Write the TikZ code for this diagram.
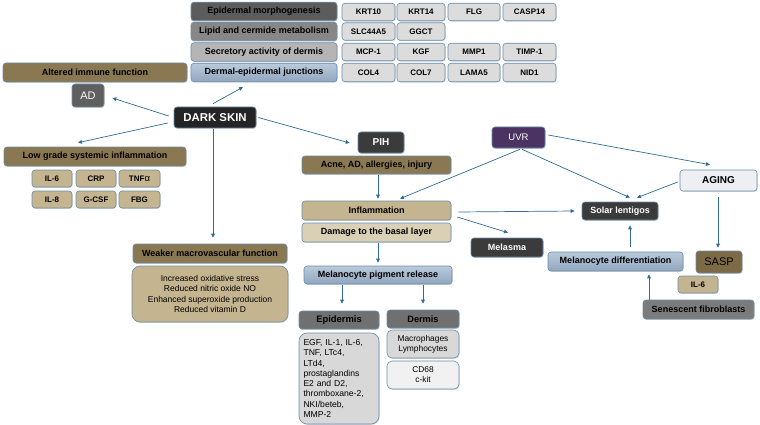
\documentclass[tikz,border=0pt]{standalone}
\usepackage{fontspec}
\setmainfont{Liberation Sans}
\usetikzlibrary{arrows.meta,calc,shadows}
\definecolor{arrowc}{HTML}{2F6B94}
\definecolor{bordc}{HTML}{6A8DAB}
\definecolor{geneg}{HTML}{DCDCDC}
\definecolor{olive}{HTML}{8A7852}
\definecolor{tan}{HTML}{C4B48F}
\definecolor{tanlt}{HTML}{D9D0B5}
\definecolor{dk}{HTML}{3B3B3B}
\definecolor{blk}{HTML}{242424}
\definecolor{gA}{HTML}{5C5C5C}
\definecolor{gB}{HTML}{878787}
\definecolor{gC}{HTML}{B5B5B5}
\definecolor{gD}{HTML}{707070}
\definecolor{gE}{HTML}{D8D8D8}
\definecolor{gF}{HTML}{F1F1F1}
\definecolor{blueT}{HTML}{BACADB}
\definecolor{blueB}{HTML}{90A6BF}
\definecolor{uvrc}{HTML}{4B3463}
\definecolor{sasp}{HTML}{7B6A45}
\definecolor{aging}{HTML}{EEEFF2}
\definecolor{senes}{HTML}{7B7B7B}
\begin{document}
\begin{tikzpicture}[x=1pt,y=-1pt,
  box/.style={draw=bordc, line width=0.6pt, rounded corners=3pt, inner sep=1pt, align=center,
    font=\fontsize{9}{10.5}\selectfont\bfseries,
    drop shadow={opacity=0.3, shadow xshift=0.7pt, shadow yshift=-0.9pt}},
  sz/.style n args={2}{minimum width=#1, minimum height=#2},
  gene/.style={box, fill=geneg, font=\fontsize{8}{9}\selectfont\bfseries},
  smallt/.style={box, fill=tan, font=\fontsize{8}{9}\selectfont\bfseries},
  bluebox/.style={box, top color=blueT, bottom color=blueB},
  listbox/.style={box, rounded corners=8pt, font=\fontsize{8.5}{10.3}\selectfont},
  arr/.style={draw=arrowc, line width=0.7pt, -{Triangle[length=4pt,width=3.6pt]}}]
\useasboundingbox (0,0) rectangle (760,425);

% top left stacked boxes
\node[box, fill=gA, sz={146}{18.5}] (epm) at (264,11.5) {Epidermal morphogenesis};
\node[box, fill=gB, sz={146}{18.5}] (lip) at (264,31.5) {Lipid and cermide metabolism};
\node[box, fill=gC, sz={146}{18.5}] (sec) at (264,52) {Secretory activity of dermis};
\node[bluebox, sz={146}{18.5}] (dej) at (264,72.5) {Dermal-epidermal junctions};

% gene boxes
\node[gene, sz={53}{17.5}] (g11) at (368.5,12) {KRT10};
\node[gene, sz={48}{17.5}] (g12) at (421,12) {KRT14};
\node[gene, sz={52}{17.5}] (g13) at (474,12) {FLG};
\node[gene, sz={53}{17.5}] (g14) at (529.5,12) {CASP14};
\node[gene, sz={53}{17.5}] (g21) at (368.5,31.5) {SLC44A5};
\node[gene, sz={48}{17.5}] (g22) at (421,31.5) {GGCT};
\node[gene, sz={53}{17.5}] (g31) at (368.5,52) {MCP-1};
\node[gene, sz={48}{17.5}] (g32) at (421,52) {KGF};
\node[gene, sz={52}{17.5}] (g33) at (474,52) {MMP1};
\node[gene, sz={53}{17.5}] (g34) at (529.5,52) {TIMP-1};
\node[gene, sz={53}{18.5}] (g41) at (368.5,72.5) {COL4};
\node[gene, sz={48}{18.5}] (g42) at (421,72.5) {COL7};
\node[gene, sz={52}{18.5}] (g43) at (474,72.5) {LAMA5};
\node[gene, sz={53}{18.5}] (g44) at (529.5,72.5) {NID1};

% left side
\node[box, fill=olive, sz={184}{19}] (aif) at (95,72.5) {Altered immune function};
\node[box, fill=gD!85!black, text=white, sz={32}{23}, font=\fontsize{11}{12}\selectfont] (ad) at (88,95.5) {AD};
\node[box, fill=blk, text=white, sz={82}{21}, font=\fontsize{11.4}{12}\selectfont\bfseries] (dark) at (215,117.5) {DARK SKIN};

\node[box, fill=olive, sz={182}{19}] (low) at (95,156.5) {Low grade systemic inflammation};
\node[smallt, sz={40}{17}] (il6) at (52,178.5) {IL-6};
\node[smallt, sz={40}{17}] (crp) at (96,178.5) {CRP};
\node[smallt, sz={41}{17}] (tnf) at (139.5,178.5) {TNF{\fontseries{m}\fontsize{9.5}{9}\selectfont α}};
\node[smallt, sz={40}{17}] (il8) at (52,199.5) {IL-8};
\node[smallt, sz={40}{17}] (gcsf) at (96,199.5) {G-CSF};
\node[smallt, sz={41}{17}] (fbg) at (139.5,199.5) {FBG};

\node[box, fill=olive, sz={154}{19}] (weak) at (210,253.5) {Weaker macrovascular function};
\node[listbox, fill=tan, sz={156}{56}] (vasc) at (210,294) {Increased oxidative stress\\Reduced nitric oxide NO\\Enhanced superoxide production\\Reduced vitamin D};

% PIH column
\node[box, fill=dk, text=white, sz={46}{21}, font=\fontsize{10}{11}\selectfont\bfseries] (pih) at (381,142.5) {PIH};
\node[box, fill=olive, sz={149}{18}] (acne) at (376.5,165) {Acne, AD, allergies, injury};
\node[box, fill=tan, sz={149}{19}] (infl) at (376.5,210.5) {Inflammation};
\node[box, fill=tanlt, sz={149}{19}] (dmg) at (376.5,232.5) {Damage to the basal layer};
\node[bluebox, sz={148}{18}] (mpr) at (378,275) {Melanocyte pigment release};
\node[box, fill=gD, sz={80}{18}, font=\fontsize{9.4}{10}\selectfont\bfseries] (epi) at (339,320) {Epidermis};
\node[listbox, fill=gE, sz={80}{91}, text width=71, align=left, inner xsep=4.5, font=\fontsize{8.6}{10.3}\selectfont] (epil) at (339,378.5) {EGF, IL-1, IL-6,\\TNF, LTc4,\\LTd4,\\prostaglandins\\E2 and D2,\\thromboxane-2,\\NKI/beteb,\\MMP-2};
\node[box, fill=gD, sz={72}{18}, font=\fontsize{9.2}{10}\selectfont\bfseries] (derm) at (423,319) {Dermis};
\node[listbox, rounded corners=5pt, fill=gE, sz={72}{28}, font=\fontsize{8.4}{10}\selectfont] (mac) at (423,344) {Macrophages\\Lymphocytes};
\node[listbox, rounded corners=5pt, fill=gF, sz={72}{28}, font=\fontsize{8.4}{10}\selectfont] (cd) at (423,375) {CD68\\c-kit};

% right side
\node[box, fill=uvrc, text=white, sz={53}{21}, font=\fontsize{9.5}{10}\selectfont] (uvr) at (518.5,137.5) {UVR};
\node[box, fill=dk, text=white, sz={72}{19}] (mel) at (507,247.5) {Melasma};
\node[box, fill=dk, text=white, sz={76}{18}] (sol) at (620,211) {Solar lentigos};
\node[box, fill=aging, sz={77}{21}, font=\fontsize{10}{11}\selectfont\bfseries] (age) at (718.5,180.5) {AGING};
\node[bluebox, sz={135}{19}] (mdif) at (615.5,261.5) {Melanocyte differentiation};
\node[box, fill=sasp, sz={46}{22}, font=\fontsize{11}{12}\selectfont] (sasp) at (719,262) {SASP};
\node[smallt, sz={40}{17}] (il6b) at (698,284.5) {IL-6};
\node[box, fill=senes, sz={111}{19}] (sen) at (698.5,309.5) {Senescent fibroblasts};

% connectors
\draw[arr] ($(dark.west)+(-5,-1.5)$) -- ($(ad.east)+(8,2.5)$);
\draw[arr] ($(dark.north)+(-2,-3)$) -- ($(dej.south)+(-21,5)$);
\draw[arr] ($(dark.east)+(2,0)$) -- ($(pih.west)+(-8,0.5)$);
\draw[arr] ($(dark.west)+(-6,5.5)$) -- ($(low.north)+(-17,-4)$);
\draw[arr] ($(dark.south)+(-2,1)$) -- ($(weak.north)+(3,-6)$);
\draw[arr] ($(acne.south)+(1.5,1)$) -- ($(infl.north)+(1.5,-2)$);
\draw[arr] ($(dmg.south)+(1.5,1)$) -- ($(mpr.north)+(0,-3)$);
\draw[arr] ($(uvr.south)+(1.5,1)$) -- ($(infl.north)+(23.5,-2)$);
\draw[arr] ($(infl.east)+(7,1.5)$) -- ($(sol.west)+(-7,0)$);
\draw[arr] ($(infl.east)+(6,6.5)$) -- ($(mel.north)+(1,-5)$);
\draw[arr] ($(mpr.south)+(-36,1)$) -- ($(epi.north)+(3,-7)$);
\draw[arr] ($(mpr.south)+(45,1)$) -- ($(derm.north)+(0,-6)$);
\draw[arr] ($(uvr.east)+(3,-2.5)$) -- ($(age.north)+(-8.5,-5)$);
\draw[arr] ($(uvr.south)+(3.5,1)$) -- ($(sol.north)+(10,-4)$);
\draw[arr] ($(age.west)+(-2,1.5)$) -- ($(sol.north)+(17,-4)$);
\draw[arr] ($(mdif.north)+(14.5,-5)$) -- ($(sol.south)+(10,5)$);
\draw[arr] ($(age.south)+(-0.5,6)$) -- ($(sasp.north)+(-1,-3)$);
\draw[arr] ($(sen.north)+(-49.5,0)$) -- ($(mdif.south)+(33.5,3)$);
\end{tikzpicture}
\end{document}
